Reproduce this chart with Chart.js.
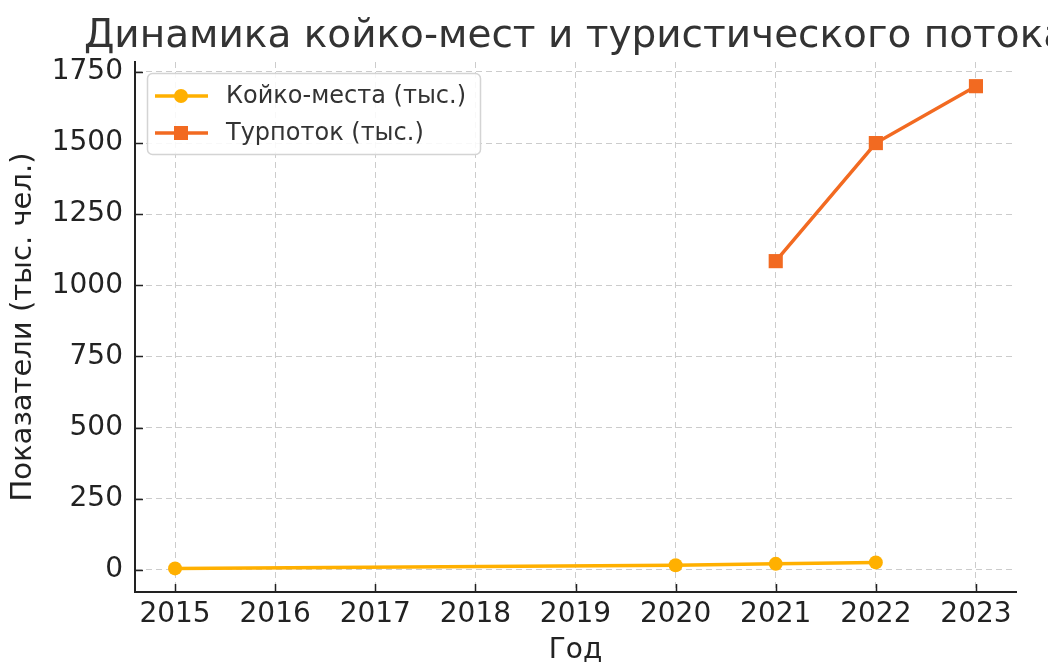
<!DOCTYPE html>
<html>
<head>
<meta charset="utf-8">
<script src="https://cdn.jsdelivr.net/npm/chart.js@4.4.1/dist/chart.umd.min.js"></script>
<style>
html,body{margin:0;padding:0;background:#ffffff;}
#wrap{width:1048px;height:664px;}
</style>
</head>
<body>
<div id="wrap"><canvas id="c" width="1048" height="664"></canvas></div>
<script>
const chartTitle = 'Динамика койко-мест и туристического потока';
const xAxisTitle = 'Год';
const yAxisTitle = 'Показатели (тыс. чел.)';

const bedLabel = 'Койко-места (тыс.)';
const bedYears = [2015, 2020, 2021, 2022];
const bedValues = [5, 16, 21, 26];

const touristLabel = 'Турпоток (тыс.)';
const touristYears = [2021, 2022, 2023];
const touristValues = [1085, 1500, 1700];

const xTicks = [2015, 2016, 2017, 2018, 2019, 2020, 2021, 2022, 2023];
const yTicks = [0, 250, 500, 750, 1000, 1250, 1500, 1750];

const FONT = "'DejaVu Sans', sans-serif";
const BED_COLOR = '#FFB000';
const TOUR_COLOR = '#F26A21';

const titlePlugin = {
  id: 'axTitle',
  afterDraw(chart) {
    const ctx = chart.ctx, a = chart.chartArea;
    ctx.save();
    ctx.font = '39px ' + FONT;
    ctx.fillStyle = '#333333';
    ctx.textAlign = 'center';
    ctx.textBaseline = 'alphabetic';
    ctx.fillText(chartTitle, (a.left + a.right) / 2, 47);
    ctx.restore();
  }
};

const innerTicks = {
  id: 'innerTicks',
  afterDatasetsDraw(chart) {
    const ctx = chart.ctx, a = chart.chartArea;
    const xs = chart.scales.x, ys = chart.scales.y;
    ctx.save();
    ctx.strokeStyle = '#222222';
    ctx.lineWidth = 1.5;
    ctx.beginPath();
    xTicks.forEach(v => {
      const px = Math.round(xs.getPixelForValue(v)) + 0.5;
      ctx.moveTo(px, a.bottom);
      ctx.lineTo(px, a.bottom - 8);
    });
    yTicks.forEach(v => {
      const py = Math.round(ys.getPixelForValue(v)) + 0.5;
      ctx.moveTo(a.left, py);
      ctx.lineTo(a.left + 8, py);
    });
    ctx.stroke();
    ctx.restore();
  }
};

const boxLegend = {
  id: 'boxLegend',
  afterDraw(chart) {
    const ctx = chart.ctx;
    const x0 = 147.5, y0 = 73.5, w = 333, h = 81, r = 5;
    ctx.save();
    ctx.beginPath();
    ctx.moveTo(x0 + r, y0);
    ctx.arcTo(x0 + w, y0, x0 + w, y0 + h, r);
    ctx.arcTo(x0 + w, y0 + h, x0, y0 + h, r);
    ctx.arcTo(x0, y0 + h, x0, y0, r);
    ctx.arcTo(x0, y0, x0 + w, y0, r);
    ctx.closePath();
    ctx.fillStyle = 'rgba(255,255,255,0.85)';
    ctx.fill();
    ctx.strokeStyle = '#d4d4d4';
    ctx.lineWidth = 1.5;
    ctx.stroke();
    const rows = [96, 133];
    chart.data.datasets.forEach((ds, i) => {
      const cy = rows[i];
      ctx.strokeStyle = ds.borderColor;
      ctx.lineWidth = 3.5;
      ctx.beginPath();
      ctx.moveTo(155, cy);
      ctx.lineTo(208, cy);
      ctx.stroke();
      ctx.fillStyle = ds.backgroundColor;
      if (ds.pointStyle === 'rect') {
        ctx.fillRect(181 - 7, cy - 7, 14, 14);
      } else {
        ctx.beginPath();
        ctx.arc(181, cy, 7, 0, Math.PI * 2);
        ctx.fill();
      }
      ctx.fillStyle = '#333333';
      ctx.font = '24px ' + FONT;
      ctx.textAlign = 'left';
      ctx.textBaseline = 'middle';
      ctx.fillText(ds.label, 226, cy + 1);
    });
    ctx.restore();
  }
};

const gridCommon = {
  color: '#cccccc',
  lineWidth: 1,
  drawTicks: false
};

new Chart(document.getElementById('c'), {
  type: 'line',
  data: {
    datasets: [
      {
        label: bedLabel,
        data: bedYears.map((x, i) => ({ x: x, y: bedValues[i] })),
        borderColor: BED_COLOR,
        backgroundColor: BED_COLOR,
        borderWidth: 3.5,
        pointStyle: 'circle',
        pointRadius: 7,
        pointHoverRadius: 7,
        pointBorderWidth: 0,
        tension: 0
      },
      {
        label: touristLabel,
        data: touristYears.map((x, i) => ({ x: x, y: touristValues[i] })),
        borderColor: TOUR_COLOR,
        backgroundColor: TOUR_COLOR,
        borderWidth: 3.5,
        pointStyle: 'rect',
        pointRadius: 10,
        pointHoverRadius: 10,
        pointBorderWidth: 0,
        tension: 0
      }
    ]
  },
  options: {
    responsive: false,
    animation: false,
    devicePixelRatio: 1,
    layout: { padding: { top: 62, right: 32, left: 0, bottom: 0 } },
    plugins: {
      legend: { display: false },
      title: { display: false },
      tooltip: { enabled: false }
    },
    scales: {
      x: {
        type: 'linear',
        min: 2014.6,
        max: 2023.4,
        afterBuildTicks: s => { s.ticks = xTicks.map(v => ({ value: v })); },
        afterFit: s => { s.height = 72; },
        ticks: {
          font: { family: FONT, size: 28 },
          color: '#222222',
          padding: 6,
          maxRotation: 0,
          autoSkip: false,
          callback: v => String(v)
        },
        grid: gridCommon,
        border: { display: true, color: '#222222', width: 2, dash: [6, 4] },
        title: {
          display: true,
          text: xAxisTitle,
          font: { family: FONT, size: 28, lineHeight: 1 },
          color: '#222222',
          padding: { top: 0, bottom: -1 }
        }
      },
      y: {
        type: 'linear',
        min: -78,
        max: 1785,
        afterBuildTicks: s => { s.ticks = yTicks.map(v => ({ value: v })); },
        afterFit: s => { s.width = 135; },
        ticks: {
          font: { family: FONT, size: 28 },
          color: '#222222',
          padding: 12,
          autoSkip: false,
          callback: v => String(v)
        },
        grid: gridCommon,
        border: { display: true, color: '#222222', width: 2, dash: [6, 4] },
        title: {
          display: true,
          text: yAxisTitle,
          font: { family: FONT, size: 29 },
          color: '#222222',
          padding: { top: 6, bottom: 0 }
        }
      }
    }
  },
  plugins: [innerTicks, titlePlugin, boxLegend]
});
</script>
</body>
</html>
